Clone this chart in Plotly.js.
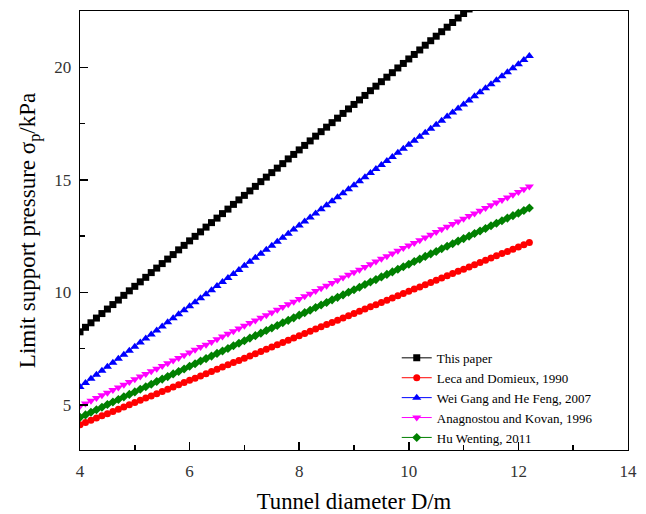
<!DOCTYPE html>
<html>
<head>
<meta charset="utf-8">
<script src="https://cdn.plot.ly/plotly-3.0.1.min.js"></script>
<style>html,body{margin:0;padding:0;background:#fff;}#chart{width:646px;height:514px;}</style>
</head>
<body>
<div id="chart"></div>
<script>
const diameter = [4.0,4.1,4.2,4.3,4.4,4.5,4.6,4.7,4.8,4.9,5.0,5.1,5.2,5.3,5.4,5.5,5.6,5.7,5.8,5.9,6.0,6.1,6.2,6.3,6.4,6.5,6.6,6.7,6.8,6.9,7.0,7.1,7.2,7.3,7.4,7.5,7.6,7.7,7.8,7.9,8.0,8.1,8.2,8.3,8.4,8.5,8.6,8.7,8.8,8.9,9.0,9.1,9.2,9.3,9.4,9.5,9.6,9.7,9.8,9.9,10.0,10.1,10.2,10.3,10.4,10.5,10.6,10.7,10.8,10.9,11.0,11.1,11.2,11.3,11.4,11.5,11.6,11.7,11.8,11.9,12.0,12.1,12.2];

const thisPaper = [8.25,8.45,8.65,8.86,9.06,9.26,9.46,9.66,9.87,10.07,10.27,10.47,10.67,10.88,11.08,11.28,11.48,11.68,11.89,12.09,12.29,12.49,12.69,12.90,13.10,13.30,13.50,13.70,13.91,14.11,14.31,14.51,14.71,14.92,15.12,15.32,15.52,15.72,15.93,16.13,16.33,16.53,16.73,16.94,17.14,17.34,17.54,17.74,17.95,18.15,18.35,18.55,18.75,18.96,19.16,19.36,19.56,19.76,19.97,20.17,20.37,20.57,20.77,20.98,21.18,21.38,21.58,21.78,21.99,22.19,22.39,22.59,22.79,23.00,23.20,23.40,23.60,23.80,24.01,24.21,24.41,24.61,24.81];

const leca1990 = [4.12,4.22,4.32,4.42,4.52,4.61,4.71,4.81,4.91,5.01,5.11,5.21,5.31,5.40,5.50,5.60,5.70,5.80,5.90,6.00,6.10,6.19,6.29,6.39,6.49,6.59,6.69,6.79,6.89,6.98,7.08,7.18,7.28,7.38,7.48,7.58,7.68,7.77,7.87,7.97,8.07,8.17,8.27,8.37,8.47,8.57,8.66,8.76,8.86,8.96,9.06,9.16,9.26,9.36,9.45,9.55,9.65,9.75,9.85,9.95,10.05,10.15,10.24,10.34,10.44,10.54,10.64,10.74,10.84,10.94,11.03,11.13,11.23,11.33,11.43,11.53,11.63,11.73,11.82,11.92,12.02,12.12,12.22];

const weiGang2007 = [5.80,5.98,6.16,6.34,6.52,6.70,6.88,7.05,7.23,7.41,7.59,7.77,7.95,8.13,8.31,8.49,8.67,8.85,9.03,9.21,9.39,9.56,9.74,9.92,10.10,10.28,10.46,10.64,10.82,11.00,11.18,11.36,11.54,11.72,11.90,12.07,12.25,12.43,12.61,12.79,12.97,13.15,13.33,13.51,13.69,13.87,14.05,14.23,14.40,14.58,14.76,14.94,15.12,15.30,15.48,15.66,15.84,16.02,16.20,16.38,16.56,16.74,16.91,17.09,17.27,17.45,17.63,17.81,17.99,18.17,18.35,18.53,18.71,18.89,19.07,19.25,19.42,19.60,19.78,19.96,20.14,20.32,20.50];

const anagnostou1996 = [4.95,5.07,5.19,5.31,5.43,5.54,5.66,5.78,5.90,6.02,6.14,6.26,6.38,6.50,6.61,6.73,6.85,6.97,7.09,7.21,7.33,7.45,7.57,7.68,7.80,7.92,8.04,8.16,8.28,8.40,8.52,8.64,8.75,8.87,8.99,9.11,9.23,9.35,9.47,9.59,9.71,9.83,9.94,10.06,10.18,10.30,10.42,10.54,10.66,10.78,10.90,11.01,11.13,11.25,11.37,11.49,11.61,11.73,11.85,11.97,12.08,12.20,12.32,12.44,12.56,12.68,12.80,12.92,13.04,13.15,13.27,13.39,13.51,13.63,13.75,13.87,13.99,14.11,14.22,14.34,14.46,14.58,14.70];

const huWenting2011 = [4.45,4.56,4.68,4.79,4.90,5.02,5.13,5.24,5.36,5.47,5.58,5.70,5.81,5.92,6.04,6.15,6.26,6.38,6.49,6.60,6.72,6.83,6.95,7.06,7.17,7.29,7.40,7.51,7.63,7.74,7.85,7.97,8.08,8.19,8.31,8.42,8.53,8.65,8.76,8.87,8.99,9.10,9.21,9.33,9.44,9.55,9.67,9.78,9.89,10.01,10.12,10.23,10.35,10.46,10.57,10.69,10.80,10.91,11.03,11.14,11.25,11.37,11.48,11.60,11.71,11.82,11.94,12.05,12.16,12.28,12.39,12.50,12.62,12.73,12.84,12.96,13.07,13.18,13.30,13.41,13.52,13.64,13.75];

const seriesNames = ["This paper","Leca and Domieux, 1990","Wei Gang and He Feng, 2007","Anagnostou and Kovan, 1996","Hu Wenting, 2011"];
const seriesValues = [thisPaper, leca1990, weiGang2007, anagnostou1996, huWenting2011];
const seriesColors = ["#000000","#FF0000","#0000FF","#FF00FF","#008000"];
const seriesSymbols = ["square","circle","triangle-up","triangle-down","diamond"];
const seriesSizes = [7,7,8,8,7];

const font = "'Liberation Serif', 'Times New Roman', serif";

const traces = seriesValues.map((vals, i) => ({
  x: diameter,
  y: vals,
  name: seriesNames[i],
  type: 'scatter',
  mode: 'lines+markers',
  line: {color: seriesColors[i], width: 1},
  marker: {color: seriesColors[i], symbol: seriesSymbols[i], size: seriesSizes[i], line: {width: 0}}
}));

const layout = {
  width: 646, height: 514,
  margin: {l: 80, r: 18, t: 11, b: 64},
  paper_bgcolor: '#fff', plot_bgcolor: '#fff',
  font: {family: font, color: '#000', size: 16},
  showlegend: true,
  legend: {
    x: 0.578, y: 0.244, xanchor: 'left', yanchor: 'top',
    bgcolor: 'rgba(0,0,0,0)', borderwidth: 0,
    font: {family: font, size: 13, color: '#000'},
    tracegroupgap: 0, itemwidth: 30
  },
  xaxis: {
    range: [4, 14], dtick: 2, tick0: 4,
    ticks: 'inside', ticklen: 8, tickwidth: 1.5, tickcolor: '#000',
    minor: {dtick: 1, ticks: 'inside', ticklen: 5, tickwidth: 1.5, tickcolor: '#000'},
    showline: true, linecolor: '#000', linewidth: 1.3, mirror: true,
    showgrid: false, zeroline: false,
    tickfont: {family: font, size: 17, color: '#333'},
    ticklabelstandoff: 5,
    title: {text: 'Tunnel diameter D/m', font: {family: font, size: 22.7, color: '#000'}, standoff: 20}
  },
  yaxis: {
    range: [3, 22.5], dtick: 5, tick0: 0,
    ticks: 'inside', ticklen: 8, tickwidth: 1.5, tickcolor: '#000',
    minor: {dtick: 2.5, ticks: 'inside', ticklen: 5, tickwidth: 1.5, tickcolor: '#000'},
    showline: true, linecolor: '#000', linewidth: 1.3, mirror: true,
    showgrid: false, zeroline: false,
    tickfont: {family: font, size: 17, color: '#333'},
    ticklabelstandoff: 4,
    title: {text: 'Limit support pressure σ<sub>p</sub>/kPa', font: {family: font, size: 23, color: '#000'}, standoff: 12}
  }
};

Plotly.newPlot('chart', traces, layout, {displayModeBar: false, staticPlot: true});
</script>
</body>
</html>
